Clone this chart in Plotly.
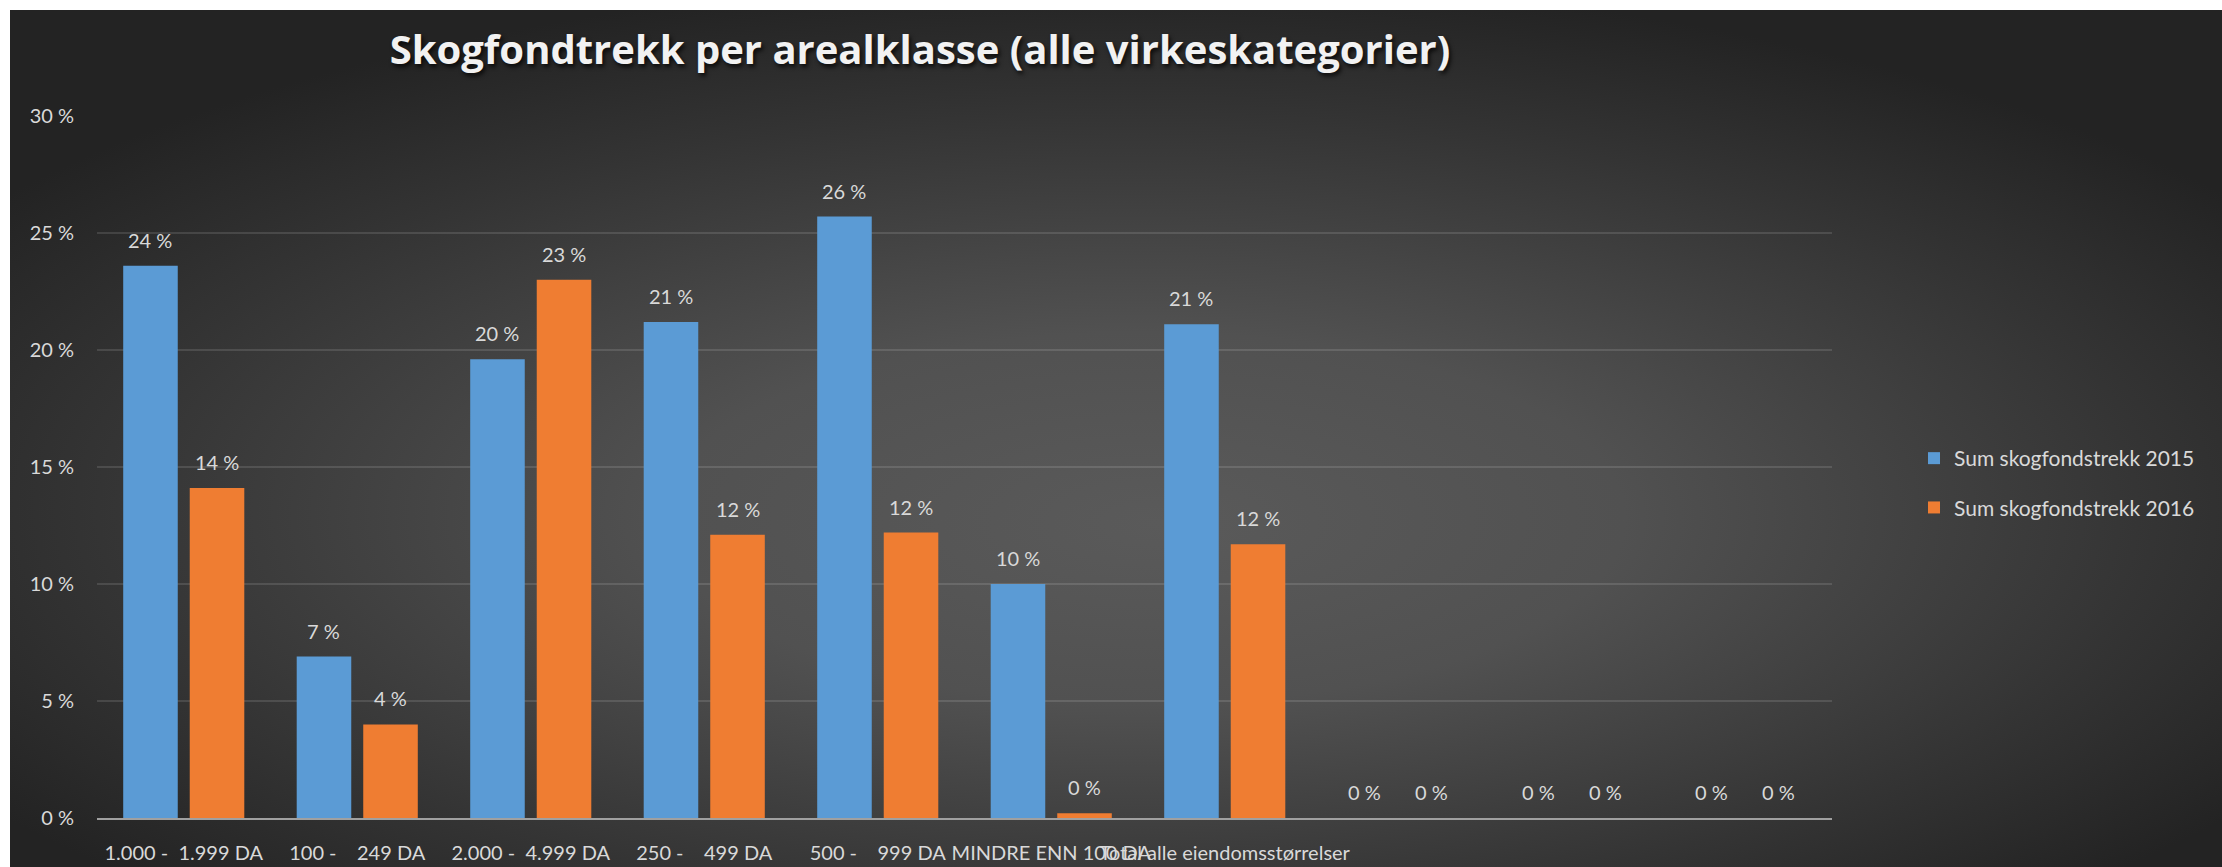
import base64
import plotly.graph_objects as go

# Area classes (blank slots at the end are empty categories in the pivot)
categories = [
    "1.000 -\u00a0\u00a01.999 DA",
    "100 -\u00a0\u00a0\u00a0\u00a0249 DA",
    "2.000 -\u00a0\u00a04.999 DA",
    "250 -\u00a0\u00a0\u00a0\u00a0499 DA",
    "500 -\u00a0\u00a0\u00a0\u00a0999 DA",
    "MINDRE ENN 100 DA",
    "Total alle eiendomsstørrelser",
    "\u00a0",
    "\u00a0\u00a0",
    "\u00a0\u00a0\u00a0",
]

# Share of timber value set aside to the forest fund (%)
sum_2015 = [23.6, 6.9, 19.6, 21.2, 25.7, 10.0, 21.1, 0, 0, 0]
sum_2016 = [14.1, 4.0, 23.0, 12.1, 12.2, 0.2, 11.7, 0, 0, 0]

series_names = ["Sum skogfondstrekk 2015", "Sum skogfondstrekk 2016"]
series_colors = ["#5b9bd5", "#ef7d32"]

y_ticks = [0, 5, 10, 15, 20, 25, 30]
y_tick_labels = [f"{t} %" for t in y_ticks]

title_text = "Skogfondtrekk per arealklasse (alle virkeskategorier)"

W, H = 2222, 867
L, R, T, B = 97, 390, 116, 49
plot_w = W - L - R
plot_h = H - T - B

label_color = "#d9d9d9"
font_family = "Lato, 'Noto Sans', sans-serif"

# Radial background panel
svg = f"""<svg xmlns="http://www.w3.org/2000/svg" width="2212" height="857" viewBox="0 0 2212 857" preserveAspectRatio="none">
<defs><radialGradient id="g" cx="0.5" cy="0.58" r="0.62" fx="0.52" fy="0.6">
<stop offset="0" stop-color="#5a5a5a"/>
<stop offset="0.35" stop-color="#515151"/>
<stop offset="0.75" stop-color="#343434"/>
<stop offset="1" stop-color="#232323"/>
</radialGradient></defs>
<rect x="0" y="0" width="2212" height="857" fill="url(#g)"/>
</svg>"""
bg_uri = "data:image/svg+xml;base64," + base64.b64encode(svg.encode("utf-8")).decode("ascii")

fig = go.Figure()
for i, (name, vals, col) in enumerate(zip(series_names, [sum_2015, sum_2016], series_colors)):
    fig.add_trace(go.Bar(
        x=categories, y=vals, name=name,
        marker=dict(color=col, line=dict(width=0)),
        legendgroup=f"g{i}",
        hoverinfo="skip",
    ))

# Value labels above each bar
slot_px = plot_w / len(categories) * (1 - 0.233) / 2
annotations = []
for vals, shift in [(sum_2015, -slot_px / 2), (sum_2016, slot_px / 2)]:
    for c, v in zip(categories, vals):
        annotations.append(dict(
            x=c, y=v, xref="x", yref="y", text=f"{round(v)} %",
            showarrow=False, xshift=shift, yshift=26, yanchor="middle",
            font=dict(family=font_family, size=20, color=label_color),
        ))

fig.update_layout(
    width=W, height=H, autosize=False,
    margin=dict(l=L, r=R, t=T, b=B, pad=0),
    paper_bgcolor="white",
    plot_bgcolor="rgba(0,0,0,0)",
    barmode="group", bargap=0.233, bargroupgap=0.18,
    title=dict(
        text=title_text, x=920 / W, xref="container", xanchor="center",
        y=1 - 50 / H, yref="container", yanchor="middle",
        font=dict(family="'Open Sans', Lato, sans-serif", size=40, color="#f2f2f2",
                  weight="bold", shadow="2px 3px 4px rgba(0,0,0,0.75)"),
    ),
    xaxis=dict(
        type="category", tickangle=0, ticks="", showgrid=False, zeroline=False,
        showline=True, linecolor="#a0a0a0", linewidth=2, automargin=False,
        tickfont=dict(family=font_family, size=20, color=label_color),
        ticklabelstandoff=16, fixedrange=True,
    ),
    yaxis=dict(
        range=[0, 30], tickmode="array", tickvals=y_ticks, ticktext=y_tick_labels,
        ticks="", showgrid=True, gridcolor="rgba(255,255,255,0.12)", gridwidth=2,
        zeroline=False, showline=False, automargin=False,
        tickfont=dict(family=font_family, size=20, color=label_color),
        ticklabelstandoff=22, fixedrange=True,
    ),
    legend=dict(
        x=(1914 - L) / plot_w, xanchor="left",
        y=(818 - 483) / plot_h, yanchor="middle",
        font=dict(family=font_family, size=21, color=label_color),
        bgcolor="rgba(0,0,0,0)", traceorder="grouped", tracegroupgap=19,
    ),
    annotations=annotations,
    images=[dict(
        source=bg_uri, xref="paper", yref="paper",
        x=(10 - L) / plot_w, y=(H - B - 10) / plot_h,
        sizex=(W - 10) / plot_w, sizey=(H - 10) / plot_h,
        xanchor="left", yanchor="top", sizing="stretch", layer="below",
    )],
    showlegend=True,
)

fig.write_html("out.html")
